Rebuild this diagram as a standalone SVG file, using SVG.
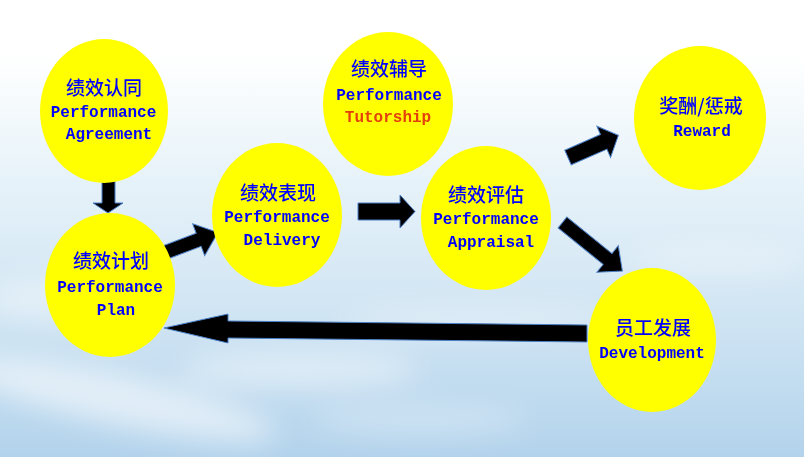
<svg xmlns="http://www.w3.org/2000/svg" width="804" height="457" viewBox="0 0 804 457">
<defs>
<linearGradient id="sky" x1="0" y1="0" x2="0" y2="1">
<stop offset="0" stop-color="#ffffff"/>
<stop offset="0.12" stop-color="#ffffff"/>
<stop offset="0.4" stop-color="#e6f2f9"/>
<stop offset="0.7" stop-color="#cfe4f3"/>
<stop offset="1" stop-color="#b3d3ec"/>
</linearGradient>
<filter id="blur" x="-50%" y="-50%" width="200%" height="200%"><feGaussianBlur stdDeviation="14"/></filter>
<style>
.node{fill:#ffff00}
.zh{font-family:"Noto Sans CJK SC","Noto Sans CJK TC",sans-serif;font-size:19px;font-weight:500;fill:#0000ff;text-anchor:middle}
.en{font-family:"Liberation Mono","DejaVu Sans Mono",monospace;font-size:16px;font-weight:bold;fill:#0000ff;text-anchor:middle}
.red{fill:#e4400c}
.arr{fill:#000000;stroke:#4a7fc8;stroke-width:1}
</style>
</defs>
<rect x="0" y="0" width="804" height="457" fill="url(#sky)"/>
<g id="clouds" filter="url(#blur)" fill="#ffffff">
<ellipse cx="120" cy="400" rx="160" ry="25" opacity="0.55" transform="rotate(12 120 400)"/>
<ellipse cx="300" cy="370" rx="120" ry="18" opacity="0.45"/>
<ellipse cx="60" cy="300" rx="80" ry="20" opacity="0.4"/>
<ellipse cx="480" cy="320" rx="140" ry="14" opacity="0.35"/>
<ellipse cx="720" cy="260" rx="90" ry="16" opacity="0.3"/>
<ellipse cx="420" cy="420" rx="110" ry="14" opacity="0.3"/>
</g>
<g id="connectors">
<polygon class="arr" points="102,178 115,178 115,203 123,203 108,213 93,203 102,203"/>
<polygon class="arr" transform="translate(165,252.5) rotate(-20.7)" points="0,-7 36,-7 36,-17 56.6,0 36,17 36,7 0,7"/>
<polygon class="arr" points="358,203 400,203 400,195 415,211.5 400,228 400,220 358,220"/>
<polygon class="arr" transform="translate(568,157.5) rotate(-23.7)" points="0,-8 39,-8 39,-17 55,0 39,17 39,8 0,8"/>
<polygon class="arr" transform="translate(562.5,222.5) rotate(39)" points="0,-7 58,-7 58,-17 77,0 58,17 58,7 0,7"/>
<polygon class="arr" points="587,325 228,321 228,314 164,328 228,343 228,338 587,342"/>
</g>
<g id="n-agreement">
<ellipse class="node" cx="104" cy="111" rx="64" ry="72"/>
<text class="zh" x="104" y="95">绩效认同</text>
<text class="en" x="103.5" y="117">Performance</text>
<text class="en" x="109" y="139">Agreement</text>
</g>
<g id="n-plan">
<ellipse class="node" cx="110" cy="285" rx="65" ry="72"/>
<text class="zh" x="111" y="268">绩效计划</text>
<text class="en" x="110" y="292">Performance</text>
<text class="en" x="116" y="315">Plan</text>
</g>
<g id="n-delivery">
<ellipse class="node" cx="277" cy="215" rx="65" ry="72"/>
<text class="zh" x="278" y="200">绩效表现</text>
<text class="en" x="277" y="222">Performance</text>
<text class="en" x="282" y="245">Delivery</text>
</g>
<g id="n-tutorship">
<ellipse class="node" cx="388" cy="104" rx="65" ry="72"/>
<text class="zh" x="389" y="76">绩效辅导</text>
<text class="en" x="389" y="100">Performance</text>
<text class="en red" x="388" y="122">Tutorship</text>
</g>
<g id="n-appraisal">
<ellipse class="node" cx="486" cy="218" rx="65" ry="72"/>
<text class="zh" x="486" y="202">绩效评估</text>
<text class="en" x="486" y="224">Performance</text>
<text class="en" x="491" y="247">Appraisal</text>
</g>
<g id="n-reward">
<ellipse class="node" cx="700" cy="118" rx="66" ry="72"/>
<text class="zh" x="701" y="113">奖酬/惩戒</text>
<text class="en" x="702" y="136">Reward</text>
</g>
<g id="n-development">
<ellipse class="node" cx="652" cy="340" rx="64" ry="72"/>
<text class="zh" x="653" y="335">员工发展</text>
<text class="en" x="652" y="358">Development</text>
</g>
</svg>
